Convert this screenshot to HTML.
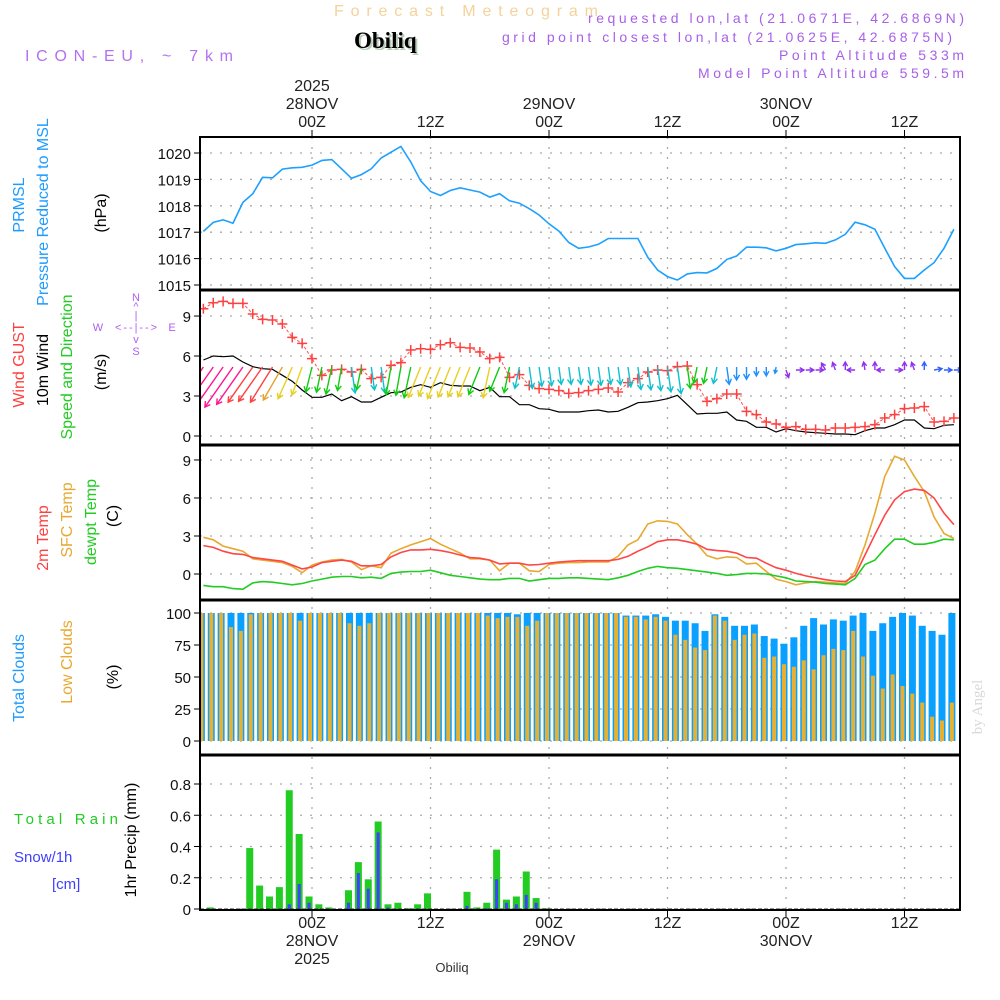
<!DOCTYPE html>
<html><head><meta charset="utf-8"><style>
html,body{margin:0;padding:0;background:#fff;}
svg{display:block;font-family:"Liberation Sans",sans-serif;}
</style></head><body>
<svg id="chart" width="1000" height="1000" viewBox="0 0 1000 1000" xmlns="http://www.w3.org/2000/svg">
<rect x="0" y="0" width="1000" height="1000" fill="#fff"/>
<g id="header">
<text x="334" y="16" font-size="16" fill="#f5d29a" textLength="264" lengthAdjust="spacing">Forecast Meteogram</text>
<text x="356" y="50" font-size="23" font-weight="bold" font-family="Liberation Serif,serif" fill="#b8ccb8">Obiliq</text>
<text x="354" y="48" font-size="23" font-weight="bold" font-family="Liberation Serif,serif" fill="#000">Obiliq</text>
<text x="25" y="61" font-size="16" fill="#b570f0" textLength="208" lengthAdjust="spacing">ICON-EU, ~ 7km</text>
<text x="588" y="23" font-size="14" fill="#a860e8" textLength="376" lengthAdjust="spacing">requested lon,lat (21.0671E, 42.6869N)</text>
<text x="502" y="42" font-size="14" fill="#a860e8" textLength="450" lengthAdjust="spacing">grid point closest lon,lat (21.0625E, 42.6875N)</text>
<text x="779" y="60" font-size="14" fill="#a860e8" textLength="185" lengthAdjust="spacing">Point Altitude 533m</text>
<text x="698" y="78" font-size="14" fill="#a860e8" textLength="266" lengthAdjust="spacing">Model Point Altitude 559.5m</text>
</g>
<g id="grid"></g>
<g id="marks"></g>
<g id="frames"></g>
<g id="labels">
<g font-size="16" fill="#1e9bff">
<text transform="translate(24,205) rotate(-90)" text-anchor="middle">PRMSL</text>
<text transform="translate(48,212) rotate(-90)" text-anchor="middle">Pressure Reduced to MSL</text>
</g>
<text transform="translate(106,213) rotate(-90)" text-anchor="middle" font-size="16">(hPa)</text>
<text transform="translate(24,365) rotate(-90)" text-anchor="middle" font-size="16" fill="#ff4040">Wind GUST</text>
<text transform="translate(48,370) rotate(-90)" text-anchor="middle" font-size="16" fill="#000">10m Wind</text>
<text transform="translate(72,367) rotate(-90)" text-anchor="middle" font-size="16" fill="#22cc22">Speed and Direction</text>
<text transform="translate(106,372) rotate(-90)" text-anchor="middle" font-size="16">(m/s)</text>
<g font-size="11" fill="#b060f0">
<text x="136" y="301" text-anchor="middle">N</text>
<text x="136" y="310" text-anchor="middle">^</text>
<text x="136" y="319" text-anchor="middle">|</text>
<text x="136" y="331" text-anchor="middle" textLength="42" lengthAdjust="spacing">&lt;--|--&gt;</text>
<text x="98" y="331" text-anchor="middle">W</text>
<text x="172" y="331" text-anchor="middle">E</text>
<text x="136" y="343" text-anchor="middle">v</text>
<text x="136" y="355" text-anchor="middle">S</text>
</g>
<text transform="translate(48,538) rotate(-90)" text-anchor="middle" font-size="16" fill="#ff4040">2m Temp</text>
<text transform="translate(72,520) rotate(-90)" text-anchor="middle" font-size="16" fill="#e8a830">SFC Temp</text>
<text transform="translate(96,522) rotate(-90)" text-anchor="middle" font-size="16" fill="#22cc22">dewpt Temp</text>
<text transform="translate(118,516) rotate(-90)" text-anchor="middle" font-size="16">(C)</text>
<text transform="translate(24,678) rotate(-90)" text-anchor="middle" font-size="16" fill="#1e9bff">Total Clouds</text>
<text transform="translate(72,662) rotate(-90)" text-anchor="middle" font-size="16" fill="#e8a830">Low Clouds</text>
<text transform="translate(118,677) rotate(-90)" text-anchor="middle" font-size="16">(%)</text>
<text x="14" y="824" font-size="15" fill="#22cc22" textLength="104" lengthAdjust="spacing">Total  Rain</text>
<text x="14" y="862" font-size="15" fill="#4040ff">Snow/1h</text>
<text x="52" y="889" font-size="15" fill="#4040ff">[cm]</text>
<text transform="translate(136,840) rotate(-90)" text-anchor="middle" font-size="16">1hr Precip (mm)</text>
<text transform="translate(982,707) rotate(-90)" text-anchor="middle" font-size="15" fill="#d8d8d8" font-family="Liberation Serif,serif">by Angel</text>
<text x="452" y="972" font-size="13" text-anchor="middle" fill="#333">Obiliq</text>
</g>
</svg>
<script>
const pressHours0 = -11;
const pressure = [1017.03,1017.37,1017.47,1017.34,1018.13,1018.46,1019.08,1019.06,1019.39,1019.44,1019.46,1019.54,1019.72,1019.75,1019.4,1019.04,1019.18,1019.4,1019.81,1020.03,1020.25,1019.66,1018.95,1018.54,1018.39,1018.58,1018.68,1018.6,1018.52,1018.33,1018.46,1018.19,1018.1,1017.89,1017.65,1017.32,1017.04,1016.61,
1016.39,1016.44,1016.54,1016.76,1016.76,1016.76,1016.76,1016.05,1015.57,1015.32,1015.19,1015.42,1015.47,1015.46,1015.63,1015.97,1016.1,1016.43,1016.43,1016.41,1016.29,1016.39,1016.53,1016.56,1016.6,1016.58,1016.71,1016.92,1017.38,1017.28,1017.11,1016.39,1015.7,1015.25,1015.25,1015.57,1015.85,1016.39,1017.11];
const gust = [9.55,10.0,10.1,9.95,9.95,9.15,8.75,8.7,8.4,7.4,6.95,5.8,4.55,4.95,5.0,4.8,5.0,4.3,4.4,5.3,5.5,6.45,6.55,6.5,6.85,7.0,6.65,6.6,6.3,5.8,5.9,4.4,4.6,3.8,3.55,3.5,3.4,3.2,
3.25,3.4,3.5,3.6,3.3,4.0,4.3,4.8,4.95,4.9,5.2,5.25,3.85,2.6,2.8,3.15,3.15,1.85,1.6,1.05,0.9,0.65,0.7,0.5,0.5,0.45,0.6,0.6,0.65,0.7,0.85,1.35,1.6,2.05,2.1,2.2,1.05,1.1,1.35];
const wind10m = [5.7,6.0,5.95,6.0,5.55,5.2,5.05,5.0,4.55,4.1,3.45,2.9,2.9,3.15,2.65,2.95,2.55,2.55,2.9,3.25,3.3,3.65,3.85,3.65,4.0,3.8,3.75,3.75,3.4,3.65,2.95,2.95,2.35,2.35,2.05,2.0,1.8,1.8,
1.8,1.9,1.95,1.8,1.85,2.15,2.5,2.55,2.65,2.8,3.05,2.35,1.65,1.7,1.7,1.8,1.2,1.1,0.65,0.65,0.3,0.55,0.4,0.3,0.25,0.2,0.15,0.15,0.1,0.4,0.6,0.6,0.85,1.2,1.2,0.6,0.55,0.8,0.85];
const windDir = [35,35,35,35,35,35,35,32,30,24,20,14,12,12,10,-8,12,-8,-8,10,10,12,22,22,22,22,22,22,22,12,22,12,12,-8,-8,-8,-8,-8,
-8,-8,-8,-8,-8,-8,-8,-8,-8,-8,-8,-8,12,12,12,-8,0,0,0,0,10,-20,-90,-90,-90,150,160,180,90,170,180,90,-90,180,160,180,-100,-90,-90];
const windCol = "mmmmmrrroyyggggcgccgggyyyyyygyggcccccccccccccccccgggcBBBBBBppppppppppppppbbbbp";
const temp2m = [2.24,2.1,1.8,1.6,1.55,1.3,1.2,1.1,1.0,0.7,0.4,0.55,0.9,1.0,1.1,1.0,0.65,0.65,0.75,1.35,1.7,1.9,1.9,1.95,1.85,1.7,1.5,1.3,1.25,1.1,0.8,0.85,0.85,0.7,0.75,0.85,0.95,1.0,
1.05,1.05,1.05,1.05,1.15,1.4,1.8,2.15,2.55,2.7,2.7,2.55,2.35,1.95,1.85,1.8,1.65,1.3,1.25,0.85,0.5,0.3,0.05,-0.15,-0.3,-0.45,-0.55,-0.6,-0.1,1.5,3.1,4.65,5.85,6.5,6.7,6.6,6.0,4.8,3.9];
const tempSfc = [2.9,2.7,2.2,2.0,1.8,1.2,1.1,1.0,0.9,0.6,0.1,0.7,0.95,1.1,1.15,0.95,0.35,0.65,0.5,1.65,2.0,2.3,2.55,2.8,2.35,2.0,1.65,1.2,1.2,1.1,0.25,0.85,0.85,0.25,0.2,0.75,0.85,0.9,
0.9,0.95,0.95,0.95,1.4,2.3,2.7,3.95,4.2,4.15,3.95,3.1,2.35,1.45,1.2,1.35,1.3,0.8,0.85,0.2,-0.4,-0.6,-0.85,-0.7,-0.6,-0.65,-0.7,-0.75,0.2,2.3,4.8,7.7,9.3,9.0,7.7,6.5,4.5,3.2,2.8];
const dewpt = [-0.9,-1.0,-1.0,-1.15,-1.2,-0.7,-0.6,-0.65,-0.75,-0.85,-0.75,-0.55,-0.4,-0.25,-0.2,-0.2,-0.3,-0.25,-0.35,0.05,0.15,0.2,0.2,0.3,0.1,-0.1,-0.2,-0.3,-0.4,-0.45,-0.45,-0.35,-0.35,-0.55,-0.45,-0.35,-0.35,-0.3,
-0.3,-0.35,-0.4,-0.45,-0.3,-0.1,0.2,0.45,0.6,0.5,0.45,0.35,0.25,0.15,0.05,-0.1,-0.05,0.05,0.05,0.0,-0.15,-0.3,-0.55,-0.6,-0.65,-0.75,-0.8,-0.85,-0.35,0.75,1.1,2.0,2.75,2.75,2.35,2.35,2.5,2.75,2.7];
const totalClouds = [100,100,100,100,100,100,100,100,100,100,100,100,100,100,100,100,100,100,100,100,100,100,100,100,100,100,100,100,100,100,100,100,99,100,100,100,100,100,
100,100,100,100,100,98,98,98,99,97,94,94,92,86,99,97,90,90,91,82,80,76,81,90,96,91,95,94,98,100,86,92,97,100,98,90,86,83,100];
const lowClouds = [100,100,100,89,86,99,100,100,100,100,94,100,100,100,100,92,90,92,100,100,100,100,100,100,100,100,100,100,100,98,96,97,97,90,94,100,100,100,
100,100,100,100,100,97,97,95,97,94,83,79,73,71,98,94,79,83,84,65,66,60,58,63,56,67,72,71,86,66,51,41,52,43,37,30,19,16,30];
const precipHours = [-10,-6,-5,-4,-3,-2,-1,0,1,2,4,5,6,7,8,9,10,11,12,16,17,18,19,20,21,22,23,24];
const rain = [0.01,0.39,0.15,0.08,0.14,0.76,0.48,0.08,0.03,0.01,0.12,0.30,0.19,0.56,0.03,0.04,0.005,0.03,0.10,0.11,0.01,0.04,0.38,0.06,0.08,0.24,0.07,0.005];
const snow = [0,0,0,0,0,0.03,0.16,0.04,0,0,0.04,0.23,0.13,0.49,0.01,0,0,0,0,0.02,0,0.005,0.19,0.04,0.03,0.09,0.04,0];
const pressTicks = [1015,1016,1017,1018,1019,1020];
const windTicks = [0,3,6,9];
const tempTicks = [0,3,6,9];
const cloudTicks = [0,25,50,75,100];
const precipTicks = [0,0.2,0.4,0.6,0.8];
const timeTicks = [0,12,24,36,48,60];
const timeLabels = ["00Z","12Z","00Z","12Z","00Z","12Z"];
const dayLabels = ["28NOV","","29NOV","","30NOV",""];

const NS="http://www.w3.org/2000/svg";
const L=200,R=960;
function xh(h){return 312+h*9.875;}
function yPress(v){return 153+(1020-v)*26.4;}
function yWind(v){return 436-v*13.33;}
function yTemp(v){return 574-v*12.67;}
function yCloud(v){return 741-v*1.28;}
function yPrecip(v){return 909-v*156.25;}
function mk(tag,attrs,parent){const e=document.createElementNS(NS,tag);for(const k in attrs)e.setAttribute(k,attrs[k]);parent.appendChild(e);return e;}
const grid=document.getElementById('grid'),marks=document.getElementById('marks'),frames=document.getElementById('frames'),labels=document.getElementById('labels');
const COL={m:'#ff1493',r:'#ff4040',o:'#e8a030',y:'#e8d020',g:'#10cc10',c:'#10c0d0',B:'#1e90ff',b:'#3060ff',p:'#9030f0'};

function panelGrid(ticks,yf,name,fmt){
  ticks.forEach(t=>{
    const y=yf(t);
    const g=mk('line',{x1:L,x2:R,y1:y,y2:y,stroke:'#aaa','stroke-width':1.3,'stroke-dasharray':'2 8'},grid);
    
    
    const tk=mk('line',{x1:L-6,x2:L,y1:y,y2:y,stroke:'#000','stroke-width':1},frames);
    
    
    const tx=mk('text',{x:L-9,y:y+6,'text-anchor':'end','font-size':15,fill:'#111'},labels);
    tx.textContent=fmt?fmt(t):String(t);
    
    
  });
}
panelGrid(pressTicks,yPress,'pressure');
panelGrid(windTicks,yWind,'wind');
panelGrid(tempTicks,yTemp,'temp');
panelGrid(cloudTicks,yCloud,'cloud');
panelGrid(precipTicks,yPrecip,'precip',t=>t===0?'0':t.toFixed(1));
timeTicks.forEach((h,i)=>{
  const x=xh(h);
  const v=mk('line',{x1:x,x2:x,y1:137,y2:910,stroke:'#aaa','stroke-width':1.3,'stroke-dasharray':'2 8'},grid);
  
  
  const t1=mk('line',{x1:x,x2:x,y1:130,y2:137,stroke:'#000'},frames);
  
  
  const t2=mk('line',{x1:x,x2:x,y1:910,y2:917,stroke:'#000'},frames);
  
  
  const a=mk('text',{x:x,y:127,'text-anchor':'middle','font-size':16,fill:'#222'},labels);
  a.textContent=timeLabels[i];
  
  
  const b=mk('text',{x:x,y:928,'text-anchor':'middle','font-size':16,fill:'#222'},labels);
  b.textContent=timeLabels[i];
  
  
  if(dayLabels[i]){
    const d=mk('text',{x:x,y:109,'text-anchor':'middle','font-size':16,fill:'#222'},labels);
    d.textContent=dayLabels[i];
    
    
    const d2=mk('text',{x:x,y:946,'text-anchor':'middle','font-size':16,fill:'#222'},labels);
    d2.textContent=dayLabels[i];
    
    
  }
  if(i===0){
    const y1=mk('text',{x:x,y:91,'text-anchor':'middle','font-size':16,fill:'#222'},labels);
    y1.textContent='2025';
    
    
    const y2=mk('text',{x:x,y:964,'text-anchor':'middle','font-size':16,fill:'#222'},labels);
    y2.textContent='2025';
    
    
  }
});
function pts(arr,yf){return arr.map((v,i)=>xh(pressHours0+i).toFixed(1)+','+yf(v).toFixed(1)).join(' ');}
const clip=mk('clipPath',{id:'plotclip'},mk('defs',{},document.getElementById('chart')));
mk('rect',{x:L,y:137,width:R-L,height:773},clip);
marks.setAttribute('clip-path','url(#plotclip)');
const pl=mk('polyline',{points:pts(pressure,yPress),fill:'none',stroke:'#1ea0ff','stroke-width':1.6},marks);


const wl=mk('polyline',{points:pts(wind10m,yWind),fill:'none',stroke:'#000','stroke-width':1.2},marks);


const gl=mk('polyline',{points:pts(gust,yWind),fill:'none',stroke:'#ff5050','stroke-width':1,'stroke-dasharray':'3 2'},marks);


gust.forEach((v,i)=>{
  const x=xh(pressHours0+i),y=yWind(v);
  const c=mk('path',{d:`M${x-5},${y}h10M${x},${y-5}v10`,stroke:'#ff4040','stroke-width':1.5},marks);
  
  
});
wind10m.forEach((s,i)=>{
  const col=COL[windCol[i]];if(!col)return;
  const a=windDir[i]*Math.PI/180;
  const small=windCol[i]==='p'||windCol[i]==='b';
  const len=small?8:7.5*s+4;
  const x0=xh(pressHours0+i),y0=small?370:367;
  const dx=-Math.sin(a)*len,dy=Math.cos(a)*len;
  const x1=x0+dx,y1=y0+dy;
  const ux=dx/len,uy=dy/len,hl=Math.min(6,len*0.6);
  const h1x=x1-hl*(ux*0.87-uy*0.5),h1y=y1-hl*(uy*0.87+ux*0.5);
  const h2x=x1-hl*(ux*0.87+uy*0.5),h2y=y1-hl*(uy*0.87-ux*0.5);
  const p=mk('path',{d:`M${x0.toFixed(1)},${y0.toFixed(1)}L${x1.toFixed(1)},${y1.toFixed(1)}M${h1x.toFixed(1)},${h1y.toFixed(1)}L${x1.toFixed(1)},${y1.toFixed(1)}L${h2x.toFixed(1)},${h2y.toFixed(1)}`,stroke:col,'stroke-width':1.4,fill:'none'},marks);
  
  
});
[[tempSfc,'#e8a830','sfc-temp-line'],[temp2m,'#ff4545','temp-2m-line'],[dewpt,'#22cc22','dewpt-line']].forEach(([arr,c,n])=>{
  const l=mk('polyline',{points:pts(arr,yTemp),fill:'none',stroke:c,'stroke-width':1.6},marks);
  
  
});
totalClouds.forEach((v,i)=>{
  const x=xh(pressHours0+i)-2;
  const b=mk('rect',{x:x-3.5,y:yCloud(v),width:7,height:741-yCloud(v),fill:'#0aa0ff'},marks);
  
  
  const lv=lowClouds[i];
  const o=mk('rect',{x:x-2,y:yCloud(lv),width:4,height:741-yCloud(lv),fill:'#e8b030'},marks);
  
  
});
precipHours.forEach((h,i)=>{
  const x=xh(h)-3;
  const g=mk('rect',{x:x-3.5,y:yPrecip(rain[i]),width:7,height:909-yPrecip(rain[i]),fill:'#22cc22'},marks);
  
  
  if(snow[i]>0){
    const s=mk('rect',{x:x-1.5,y:yPrecip(snow[i]),width:3,height:909-yPrecip(snow[i]),fill:'#4040ff'},marks);
    
    
  }
});
const zl=mk('line',{x1:L,x2:R,y1:909,y2:909,stroke:'#333','stroke-width':1,'stroke-dasharray':'4 2'},marks);


const fr=mk('rect',{x:L,y:137,width:R-L,height:773,fill:'none',stroke:'#000','stroke-width':2},frames);


[290,445,600,755].forEach(y=>{
  const d=mk('line',{x1:L,x2:R,y1:y,y2:y,stroke:'#000','stroke-width':3},frames);
  
  
});
</script>
</body></html>
